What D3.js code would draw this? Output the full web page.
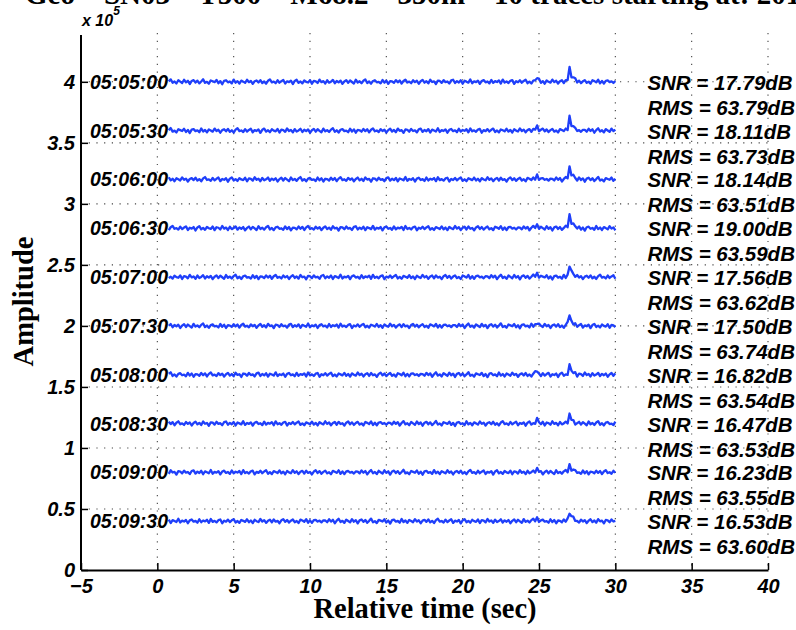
<!DOCTYPE html>
<html>
<head>
<meta charset="utf-8">
<script src="https://cdn.jsdelivr.net/npm/d3@7"></script>
<style>
  body { margin: 0; background: #fff; }
  svg { display: block; }
</style>
</head>
<body>
<svg id="chart" width="796" height="630"></svg>
<script>
// trace start times, stats, offsets (x1e5)
const startTimes = ["05:05:00","05:05:30","05:06:00","05:06:30","05:07:00",
                    "05:07:30","05:08:00","05:08:30","05:09:00","05:09:30"];
const snrValues = [17.79, 18.11, 18.14, 19.00, 17.56, 17.50, 16.82, 16.47, 16.23, 16.53];
const rmsValues = [63.79, 63.73, 63.51, 63.59, 63.62, 63.74, 63.54, 63.53, 63.55, 63.60];
const traceOffsets = [4.0, 3.6, 3.2, 2.8, 2.4, 2.0, 1.6, 1.2, 0.8, 0.4];
// spike peaks (x1e3): t ~ 27.1 s and t ~ 25 s
const bigSpike = [12, 11.5, 10.5, 11.5, 10, 9, 7.5, 7.5, 6.5, 7.5];
const smallSpike = [3.5, 4, 3.5, 3, 3.5, 3, 3, 3.5, 3, 3];
const bigShape = [0.15, 1, 0.45, 0.25, 0.1];
const smallShape = [0.3, 1, 0.3];

const xTicks = [-5, 0, 5, 10, 15, 20, 25, 30, 35, 40];
const yTicks = [0, 0.5, 1, 1.5, 2, 2.5, 3, 3.5, 4];

// background noise of one trace, x1.4e3, sampled every 0.125 s from 0 to 30 s
const noise = [
 0.4,-0.6,1.1,-0.2,0.8,-1.2,0.3,1.4,-0.5,0.2,-1.0,0.9,0.1,-0.7,1.2,-0.3,0.6,-1.3,0.5,1.0,
-0.4,0.7,-0.9,0.2,1.5,-0.6,0.0,-1.1,0.8,0.3,-0.2,1.1,-0.8,0.4,-1.4,0.6,0.9,-0.3,0.2,-0.9,
 1.3,-0.5,0.4,-1.0,0.7,0.1,-0.6,1.2,-0.2,0.5,-1.2,0.3,0.8,-0.4,1.0,-0.7,0.2,-1.1,0.6,1.4,
-0.3,0.1,-0.8,0.9,-0.5,0.4,1.1,-1.0,0.3,-0.2,0.7,-1.3,0.5,1.2,-0.6,0.2,-0.9,0.8,0.0,-0.4,
 1.0,-1.1,0.6,0.3,-0.7,1.3,-0.2,0.4,-1.0,0.9,-0.5,0.1,1.1,-0.8,0.5,-0.3,0.7,-1.2,0.2,1.0,
-0.6,0.8,-0.1,-1.0,1.2,-0.4,0.3,-0.8,0.6,1.4,-0.7,0.2,-1.1,0.5,0.9,-0.3,0.0,-0.9,1.1,-0.5,
 0.7,-1.2,0.4,0.2,-0.6,1.0,-0.3,0.8,-1.0,0.5,1.3,-0.4,0.1,-0.8,0.9,-0.2,0.6,-1.1,0.3,1.1,
-0.5,0.4,-0.9,1.2,-0.1,0.3,-1.3,0.7,0.5,-0.6,1.0,-0.2,0.2,-1.0,0.8,1.2,-0.7,0.4,-0.4,0.9,
-1.1,0.6,0.1,-0.5,1.4,-0.8,0.3,-0.2,0.7,-1.2,0.5,1.0,-0.3,0.2,-0.9,1.1,-0.6,0.4,-0.1,0.8,
-1.0,1.3,-0.4,0.2,-0.7,0.6,1.0,-1.2,0.3,-0.3,0.9,-0.5,0.5,1.2,-0.8,0.1,-1.0,0.7,0.2,-0.4,
 1.1,-0.6,0.4,-1.1,0.8,0.0,-0.5,1.3,-0.2,0.6,-1.0,0.3,0.9,-0.7,1.0,-0.3,0.2,-1.2,0.5,1.2,
-0.4,0.7,-0.8,0.3,1.0,-0.6,0.1,-1.1,0.9,0.4,-0.3,1.2,-0.9,0.5,-1.0,0.6,0.8,-0.2,0.3,-0.7,
 0.5
];
const noiseUnit = 1.4, spikeUnit = 1.0; // thousands
const dt = 0.125, firstIdx = 6, bigIdx = 216, smallIdx = 199;

const svg = d3.select("#chart");
const x = d3.scaleLinear().domain([-5, 40]).range([81, 768]);
const y = d3.scaleLinear().domain([0, 4.4]).range([570, 33]);

const sans = "'Liberation Sans', Arial, Helvetica, sans-serif";
const serif = "'Liberation Serif', 'Times New Roman', serif";

/* grid */
const grid = svg.append("g").attr("stroke", "#444").attr("stroke-width", 1.1)
                .attr("stroke-dasharray", "1.2 6.5");
grid.selectAll(".vg").data(xTicks.slice(1)).enter().append("line")
    .attr("x1", d => x(d)).attr("x2", d => x(d)).attr("y1", y(4.4)).attr("y2", y(0));
grid.selectAll(".hg").data(yTicks.slice(1)).enter().append("line")
    .attr("x1", x(-5)).attr("x2", x(40)).attr("y1", d => y(d)).attr("y2", d => y(d));

/* traces */
const line = d3.line().x(d => x(d[0])).y(d => y(d[1]));
traceOffsets.forEach((off, k) => {
    const shift = k * 17;
    const pts = [];
    for (let i = firstIdx; i < noise.length; i++) {
        let v = noise[(i + shift) % noise.length] * noiseUnit;
        const b = i - bigIdx + 1;
        if (b >= 0 && b < bigShape.length) v += bigShape[b] * bigSpike[k] * spikeUnit;
        const s = i - smallIdx + 1;
        if (s >= 0 && s < smallShape.length) v += smallShape[s] * smallSpike[k] * spikeUnit;
        pts.push([i * dt, off + v / 100]);
    }
    svg.append("path").datum(pts)
        .attr("d", line)
        .attr("fill", "none")
        .attr("stroke", "#1f3ffa")
        .attr("stroke-width", 2.3)
        .attr("stroke-linejoin", "round");
});

/* axes */
const xAxis = svg.append("g").attr("transform", `translate(0,${y(0)})`)
    .call(d3.axisBottom(x).tickValues(xTicks).tickSizeInner(-7).tickSizeOuter(0).tickPadding(9));
const yAxis = svg.append("g").attr("transform", `translate(${x(-5)},0)`)
    .call(d3.axisLeft(y).tickValues(yTicks).tickSizeInner(-7).tickSizeOuter(0).tickPadding(6)
          .tickFormat(d => String(d)));
[xAxis, yAxis].forEach(g => {
    g.select(".domain").attr("stroke-width", 2);
    g.selectAll(".tick line").attr("stroke-width", 1.5);
    g.selectAll("text").attr("fill", "#000")
        .style("font-family", sans).style("font-size", "20px")
        .style("font-weight", "bold").style("font-style", "italic");
});
yAxis.select(".domain").attr("d", `M0,${y(4.4) + 2}V${y(0)}`);

/* exponent */
const expo = svg.append("text").attr("x", 82).attr("y", 26)
    .style("font-family", sans).style("font-weight", "bold").style("font-style", "italic")
    .style("font-size", "16px");
expo.append("tspan").text("x 10");
expo.append("tspan").attr("dy", -11).style("font-size", "12px").text("5");

/* labels on the traces */
const lblStyle = s => s.style("font-family", sans).style("font-weight", "bold")
    .style("font-style", "italic").style("font-size", "20.5px").attr("fill", "#000");
svg.selectAll(".tlab").data(startTimes).enter().append("text")
    .attr("x", 90).attr("y", (d, i) => y(traceOffsets[i]) + 7)
    .text(d => d).call(lblStyle).style("font-size", "19.5px");
svg.selectAll(".snr").data(snrValues).enter().append("text")
    .attr("x", x(32.1)).attr("y", (d, i) => y(traceOffsets[i]) + 8)
    .text(d => `SNR = ${d.toFixed(2)}dB`).call(lblStyle);
svg.selectAll(".rms").data(rmsValues).enter().append("text")
    .attr("x", x(32.1)).attr("y", (d, i) => y(traceOffsets[i]) + 33)
    .text(d => `RMS = ${d.toFixed(2)}dB`).call(lblStyle);

/* title and axis titles */
svg.append("text").attr("x", 25).attr("y", 4)
    .style("font-family", serif).style("font-weight", "bold").style("font-size", "29px")
    .text("Geo – SN03 – T500 – M68.2 – 350m – 10 traces starting at: 2014");
svg.append("text").attr("x", 425).attr("y", 618).attr("text-anchor", "middle")
    .style("font-family", serif).style("font-weight", "bold").style("font-size", "28.5px")
    .text("Relative time (sec)");
svg.append("text").attr("transform", `translate(33,${y(2.2)}) rotate(-90)`)
    .attr("text-anchor", "middle")
    .style("font-family", serif).style("font-weight", "bold").style("font-size", "28.5px")
    .text("Amplitude");
</script>
</body>
</html>
